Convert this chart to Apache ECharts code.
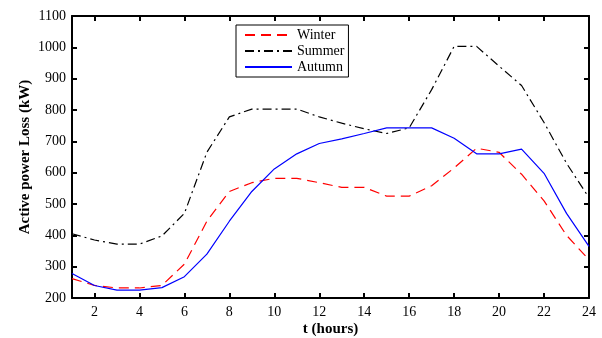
<!DOCTYPE html>
<html><head><meta charset="utf-8">
<script src="https://cdn.jsdelivr.net/npm/echarts@6/dist/echarts.min.js"></script>
<style>html,body{margin:0;padding:0;background:#fff}#c{width:602px;height:338px}</style>
</head><body><div id="c"></div>
<script>
const hours = [1,2,3,4,5,6,7,8,9,10,11,12,13,14,15,16,17,18,19,20,21,22,23,24];
const winter = [262,240,232,232,240,308,445,540,568,582,582,568,553,553,525,525,558,615,678,665,595,510,400,322];
const summer = [405,385,372,372,398,470,665,778,803,803,803,778,758,740,725,743,865,1003,1003,940,878,760,630,520];
const autumn = [278,240,225,225,233,268,340,445,540,612,660,693,708,725,743,743,743,710,660,660,675,598,470,365];
const xTicks = [2,4,6,8,10,12,14,16,18,20,22,24];
const seriesNames = ['Winter','Summer','Autumn'];

const font = 'Liberation Serif';
const chart = echarts.init(document.getElementById('c'));
const pair = arr => hours.map((h,i)=>[h,arr[i]]);
const axisCommon = {
  axisLine:{show:true,lineStyle:{color:'#000',width:2}},
  splitLine:{show:false}
};
chart.setOption({
  animation:false,
  grid:{left:72,right:13,top:16,bottom:40,containLabel:false,outerBoundsMode:'none'},
  legend:{
    orient:'vertical', left:236, top:25,
    data:seriesNames,
    itemWidth:47, itemHeight:14, itemGap:2, itemTextGap:5,
    padding:[3,4,3,8],
    borderColor:'#000', borderWidth:1, backgroundColor:'#fff',
    itemStyle:{opacity:0},
    textStyle:{fontFamily:font,fontSize:14,color:'#000'}
  },
  xAxis:[
    Object.assign({type:'value',min:1,max:24,position:'bottom',
      name:'t (hours)',nameLocation:'middle',nameGap:24,nameMoveOverlap:false,
      nameTextStyle:{fontFamily:font,fontSize:15,fontWeight:'bold',color:'#000'},
      axisTick:{show:true,inside:true,length:5,customValues:xTicks,lineStyle:{color:'#000',width:2}},
      axisLabel:{customValues:xTicks,fontFamily:font,fontSize:14,color:'#000',margin:7}
    },axisCommon),
    Object.assign({type:'value',min:1,max:24,position:'top',
      axisTick:{show:true,inside:true,length:5,customValues:xTicks,lineStyle:{color:'#000',width:2}},
      axisLabel:{show:false}
    },axisCommon)
  ],
  yAxis:[
    Object.assign({type:'value',min:200,max:1100,interval:100,position:'left',
      name:'Active power Loss (kW)',nameLocation:'middle',nameGap:39,nameMoveOverlap:false,
      nameTextStyle:{fontFamily:font,fontSize:15,fontWeight:'bold',color:'#000'},
      axisTick:{show:true,inside:true,length:5,lineStyle:{color:'#000',width:2}},
      axisLabel:{fontFamily:font,fontSize:14,color:'#000',margin:6,formatter:v=>String(v)}
    },axisCommon),
    Object.assign({type:'value',min:200,max:1100,interval:100,position:'right',
      axisTick:{show:true,inside:true,length:5,lineStyle:{color:'#000',width:2}},
      axisLabel:{show:false}
    },axisCommon)
  ],
  series:[
    {name:'Winter',type:'line',data:pair(winter),symbol:'none',
      lineStyle:{color:'#ff0000',width:1.2,type:[10,6]},itemStyle:{color:'#ff0000'}},
    {name:'Summer',type:'line',data:pair(summer),symbol:'none',
      lineStyle:{color:'#000',width:1.2,type:[9,4,2,4]},itemStyle:{color:'#000'}},
    {name:'Autumn',type:'line',data:pair(autumn),symbol:'none',
      lineStyle:{color:'#0000ff',width:1.2},itemStyle:{color:'#0000ff'}}
  ]
});
</script></body></html>
